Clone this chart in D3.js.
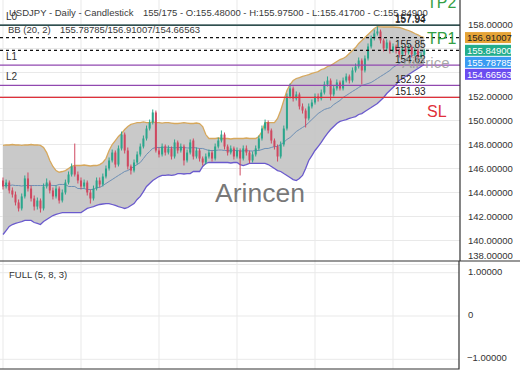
<!DOCTYPE html>
<html>
<head>
<meta charset="utf-8">
<script src="https://cdn.jsdelivr.net/npm/d3@7"></script>
<style>
  body { margin: 0; background: #fff; }
  svg { display: block; font-family: "Liberation Sans", Arial, sans-serif; }
</style>
</head>
<body>
<svg id="chart" width="520" height="390"></svg>
<script>
// daily USDJPY bars
const opens = [
  145.00, 144.50, 144.83, 144.17, 143.83, 143.17, 142.67, 143.67, 145.17, 144.33,
  143.50, 142.83, 143.33, 142.67, 144.50, 144.83, 144.17, 143.67, 144.33, 143.33,
  144.00, 144.83, 145.50, 146.17, 145.50, 145.00, 144.50, 144.83, 144.00, 143.50,
  144.33, 145.00, 144.67, 145.33, 146.00, 146.67, 147.33, 146.33, 147.67, 148.83,
  147.50, 146.17, 145.83, 146.50, 147.17, 147.83, 148.50, 149.33, 149.83, 150.67,
  147.50, 147.17, 147.83, 147.33, 147.67, 147.00, 148.17, 147.50, 147.83, 146.67,
  147.33, 148.33, 147.00, 147.50, 146.83, 146.50, 147.00, 147.33, 146.83, 147.83,
  148.33, 148.83, 147.83, 147.33, 147.67, 147.00, 147.50, 146.83, 147.67, 147.33,
  146.67, 147.17, 147.67, 148.50, 149.33, 149.83, 149.17, 148.33, 147.83, 147.00,
  148.00, 149.33, 152.00, 152.67, 151.83, 152.17, 151.17, 150.83, 150.17, 151.17,
  151.50, 152.00, 151.83, 152.33, 153.00, 153.33, 152.17, 152.67, 153.17, 152.67,
  153.33, 153.67, 153.33, 154.17, 154.50, 155.00, 154.17, 155.17, 156.17, 156.83,
  157.25, 157.42, 156.67, 156.00, 156.50, 155.83, 156.17, 155.83, 155.50, 156.00,
  155.67, 156.08, 155.50, 155.83, 155.33, 155.48
];
const highs = [
  145.25, 145.08, 145.00, 144.42, 144.08, 143.42, 143.92, 145.42, 145.67, 144.58,
  143.75, 143.58, 143.50, 144.75, 145.17, 145.00, 144.42, 144.58, 144.50, 144.25,
  145.08, 145.75, 146.42, 148.08, 145.75, 145.25, 145.08, 145.00, 144.25, 144.58,
  145.25, 145.25, 145.58, 146.25, 146.92, 147.58, 147.50, 147.92, 149.08, 149.00,
  147.75, 146.33, 146.75, 147.42, 148.08, 148.75, 149.58, 150.08, 150.92, 150.83,
  147.75, 148.08, 148.00, 147.92, 147.83, 148.42, 148.33, 148.08, 148.00, 147.58,
  148.42, 148.50, 147.75, 147.67, 147.00, 147.25, 147.58, 147.50, 148.08, 148.58,
  149.17, 149.00, 148.00, 147.92, 147.83, 147.75, 147.67, 147.92, 147.92, 147.50,
  147.42, 147.92, 148.75, 149.58, 150.08, 150.00, 149.33, 148.50, 148.00, 148.25,
  149.58, 152.25, 153.08, 152.83, 152.42, 152.33, 151.42, 151.00, 151.42, 151.75,
  152.25, 152.25, 152.58, 153.25, 153.67, 153.50, 152.92, 153.42, 153.33, 153.58,
  153.92, 153.83, 154.42, 154.75, 155.25, 155.17, 155.42, 156.42, 157.08, 157.58,
  157.83, 157.58, 156.83, 156.75, 156.67, 156.42, 156.33, 156.00, 156.25, 156.17,
  156.33, 156.25, 156.08, 156.00, 155.67, 155.975
];
const lows = [
  144.25, 144.33, 143.92, 143.58, 142.92, 142.42, 142.50, 143.50, 144.08, 143.25,
  142.50, 142.58, 142.33, 142.50, 144.33, 143.92, 143.42, 143.50, 143.08, 143.17,
  143.83, 144.67, 145.33, 145.33, 144.75, 144.25, 144.33, 143.75, 143.08, 143.33,
  144.17, 144.42, 144.50, 145.17, 145.83, 146.50, 146.08, 146.17, 147.50, 147.25,
  145.92, 145.50, 145.67, 146.33, 147.00, 147.67, 148.33, 149.17, 149.67, 147.33,
  146.92, 147.00, 147.08, 147.17, 146.75, 146.83, 147.25, 147.33, 146.25, 146.50,
  147.17, 146.75, 146.83, 146.58, 146.25, 146.33, 146.83, 146.58, 146.67, 147.67,
  148.17, 147.58, 147.08, 147.17, 146.75, 146.83, 145.42, 146.67, 147.08, 146.42,
  146.50, 147.00, 147.50, 148.33, 149.17, 148.92, 148.08, 147.58, 146.58, 146.83,
  147.83, 149.17, 151.83, 151.58, 151.67, 150.92, 150.58, 149.42, 150.00, 151.00,
  151.33, 151.58, 151.67, 152.17, 152.83, 151.67, 152.00, 152.50, 152.50, 152.50,
  153.17, 153.08, 153.17, 154.00, 154.33, 153.00, 154.00, 155.00, 156.00, 156.67,
  157.08, 156.42, 155.75, 155.83, 155.58, 155.67, 155.58, 155.25, 155.33, 155.42,
  155.50, 155.25, 155.33, 155.08, 155.17, 155.417
];
const closes = [
  144.50, 144.83, 144.17, 143.83, 143.17, 142.67, 143.67, 145.17, 144.33, 143.50,
  142.83, 143.33, 142.67, 144.50, 144.83, 144.17, 143.67, 144.33, 143.33, 144.00,
  144.83, 145.50, 146.17, 145.50, 145.00, 144.50, 144.83, 144.00, 143.50, 144.33,
  145.00, 144.67, 145.33, 146.00, 146.67, 147.33, 146.33, 147.67, 148.83, 147.50,
  146.17, 145.83, 146.50, 147.17, 147.83, 148.50, 149.33, 149.83, 150.67, 147.50,
  147.17, 147.83, 147.33, 147.67, 147.00, 148.17, 147.50, 147.83, 146.67, 147.33,
  148.17, 147.00, 147.50, 146.83, 146.50, 147.00, 147.33, 146.83, 147.83, 148.33,
  148.83, 147.83, 147.33, 147.67, 147.00, 147.50, 146.83, 147.67, 147.33, 146.67,
  147.17, 147.67, 148.50, 149.33, 149.83, 149.17, 148.33, 147.83, 147.00, 148.00,
  149.33, 152.00, 152.67, 151.83, 152.17, 151.17, 150.83, 150.17, 151.17, 151.50,
  152.00, 151.83, 152.33, 153.00, 153.33, 152.17, 152.67, 153.17, 152.67, 153.33,
  153.67, 153.33, 154.17, 154.50, 155.00, 154.17, 155.17, 156.17, 156.83, 157.25,
  157.42, 156.67, 156.00, 156.50, 155.83, 156.17, 155.83, 155.50, 156.00, 155.67,
  156.08, 155.50, 155.83, 155.33, 155.48, 155.849
];

// Bollinger bands (20, 2) as drawn
const bbUpper = [
  147.92, 147.96, 147.96, 148.00, 147.96, 147.96, 147.92, 147.96, 147.96, 148.00,
  147.96, 147.96, 147.92, 147.75, 147.33, 146.67, 146.17, 145.83, 145.69, 145.75,
  145.83, 146.00, 146.17, 146.25, 146.25, 146.25, 146.29, 146.25, 146.21, 146.25,
  146.25, 146.33, 146.50, 146.83, 147.50, 148.00, 148.33, 148.67, 148.92, 149.25,
  149.50, 149.67, 149.75, 149.83, 149.83, 149.88, 149.83, 149.83, 149.88, 149.83,
  149.83, 149.79, 149.83, 149.83, 149.79, 149.75, 149.75, 149.79, 149.83, 149.79,
  149.75, 149.75, 149.79, 149.75, 149.50, 148.83, 148.50, 148.50, 148.50, 148.54,
  148.50, 148.50, 148.50, 148.46, 148.50, 148.50, 148.50, 148.50, 148.54, 148.50,
  148.50, 148.50, 148.67, 149.08, 149.83, 149.83, 149.83, 149.83, 150.17, 150.83,
  151.67, 152.50, 153.00, 153.33, 153.50, 153.58, 153.67, 153.75, 153.83, 153.92,
  154.00, 154.08, 154.25, 154.33, 154.50, 154.58, 154.75, 154.92, 155.08, 155.17,
  155.33, 155.58, 155.83, 156.08, 156.42, 156.67, 156.92, 157.17, 157.42, 157.67,
  157.83, 157.81, 157.79, 157.79, 157.79, 157.79, 157.77, 157.75, 157.67, 157.58,
  157.50, 157.38, 157.25, 157.13, 157.00, 156.91007
];
const bbMiddle = [
  144.58, 144.58, 144.58, 144.62, 144.58, 144.58, 144.54, 144.58, 144.58, 144.58,
  144.58, 144.58, 144.58, 144.58, 144.62, 144.62, 144.58, 144.58, 144.67, 144.67,
  144.67, 144.50, 144.50, 144.50, 144.33, 144.33, 144.33, 144.25, 144.25, 144.25,
  144.42, 144.42, 144.58, 144.75, 144.92, 145.08, 145.25, 145.42, 145.58, 145.75,
  145.83, 146.00, 146.17, 146.33, 146.50, 146.83, 147.17, 147.42, 147.67, 147.75,
  147.75, 147.75, 147.79, 147.75, 147.75, 147.71, 147.75, 147.75, 147.75, 147.71,
  147.71, 147.75, 147.71, 147.67, 147.67, 147.58, 147.50, 147.50, 147.50, 147.54,
  147.54, 147.50, 147.50, 147.46, 147.50, 147.50, 147.46, 147.46, 147.50, 147.46,
  147.46, 147.50, 147.50, 147.58, 147.67, 147.67, 147.75, 147.83, 147.83, 148.00,
  148.17, 148.42, 148.58, 148.83, 149.08, 149.25, 149.42, 149.58, 149.83, 150.08,
  150.33, 150.58, 150.75, 150.92, 151.00, 151.08, 151.33, 151.50, 151.67, 151.92,
  152.08, 152.25, 152.42, 152.58, 152.75, 152.92, 153.00, 153.08, 153.17, 153.33,
  153.50, 153.67, 153.83, 154.00, 154.17, 154.42, 154.58, 154.75, 154.92, 155.08,
  155.25, 155.38, 155.50, 155.63, 155.71, 155.78785
];
const bbLower = [
  140.50, 140.83, 141.17, 141.33, 141.42, 141.50, 141.58, 141.67, 141.67, 141.67,
  141.50, 141.42, 141.33, 141.58, 141.75, 141.92, 142.08, 142.17, 142.25, 142.33,
  142.33, 142.33, 142.33, 142.33, 142.33, 142.33, 142.50, 142.67, 142.75, 142.83,
  142.92, 143.00, 143.04, 143.08, 143.08, 143.00, 142.92, 142.83, 142.75, 142.67,
  142.75, 142.92, 143.08, 143.42, 143.67, 144.08, 144.50, 144.75, 145.00, 145.17,
  145.33, 145.42, 145.42, 145.46, 145.42, 145.46, 145.58, 145.58, 145.54, 145.58,
  145.58, 145.75, 145.75, 145.75, 146.17, 146.42, 146.50, 146.50, 146.50, 146.50,
  146.50, 146.50, 146.50, 146.46, 146.50, 146.50, 146.33, 146.25, 146.33, 146.42,
  146.42, 146.42, 146.42, 146.42, 146.42, 146.33, 146.17, 146.00, 145.83, 145.75,
  145.58, 145.42, 145.25, 145.08, 145.00, 145.17, 145.42, 146.00, 146.67, 147.08,
  147.50, 147.83, 148.17, 148.58, 148.92, 149.25, 149.50, 149.75, 149.92, 150.00,
  150.08, 150.17, 150.25, 150.33, 150.50, 150.58, 150.75, 150.92, 151.08, 151.25,
  151.42, 151.67, 151.92, 152.25, 152.50, 152.75, 153.00, 153.33, 153.50, 153.67,
  153.83, 154.00, 154.17, 154.33, 154.50, 154.66563
];

// horizontal levels
const levelValues = [157.94, 157.93, 156.91, 155.85, 154.62, 152.92, 151.93];
const levelTexts  = ['157.94', '157.93', '', '155.85', '154.62', '152.92', '151.93'];
const levelKinds  = ['L', 'L', 'dash', 'dash', 'P', 'P', 'SL'];
const sideNames   = ['L0', 'L1', 'L2'];
const sideValues  = [157.94, 154.62, 152.92];
const targetNames  = ['TP2', 'TP1', 'SL'];
const targetValues = [159.35, 156.38, 150.27];

// right axis tags
const tagValues = [156.91007, 155.849, 155.78785, 154.66563];
const tagColors = ['#e5a336', '#22ad8c', '#3a9bf2', '#6b4cf0'];
const tagText   = ['#222', '#fff', '#fff', '#fff'];

const priceTicks = [158, 156, 154, 152, 150, 148, 146, 144, 142, 140, 138];
const oscTicks = [1, 0, -1];
const gridBars = [0, 25, 50, 75, 100, 125];

const svg = d3.select('#chart');
const axisX = 460, mainBottom = 261, lowBottom = 369;
const fmt = d3.format('.5f');

const x = d3.scaleLinear().domain([0, closes.length - 1]).range([3, 424.2]);
const y = d3.scaleLinear().domain([138.333, 160]).range([260.5, 0.5]);
const yo = d3.scaleLinear().domain([-1, 1]).range([359.3, 272.7]);

svg.append('defs').append('clipPath').attr('id', 'clipMain')
  .append('rect').attr('x', 0).attr('y', 0).attr('width', axisX).attr('height', mainBottom);

// grid ----------------------------------
const grid = svg.append('g').attr('stroke', '#e9e9e9').attr('stroke-width', 1);
grid.selectAll('line.h').data(priceTicks).join('line')
  .attr('x1', 0).attr('x2', axisX).attr('y1', d => y(d)).attr('y2', d => y(d));
grid.selectAll('line.v').data(gridBars).join('line')
  .attr('x1', d => x(d)).attr('x2', d => x(d)).attr('y1', 0).attr('y2', lowBottom);
grid.selectAll('line.o').data(oscTicks).join('line')
  .attr('x1', 0).attr('x2', axisX - 1).attr('y1', d => yo(d)).attr('y2', d => yo(d));

const main = svg.append('g').attr('clip-path', 'url(#clipMain)');

// bollinger band
const idx = d3.range(closes.length);
main.append('path').datum(idx)
  .attr('fill', '#c3c3c3').attr('fill-opacity', 0.9)
  .attr('d', d3.area().x(i => x(i)).y0(i => y(bbLower[i])).y1(i => y(bbUpper[i])));
const bbLine = arr => d3.line().x(i => x(i)).y(i => y(arr[i]));
main.append('path').datum(idx).attr('fill', 'none').attr('stroke', '#d7a85c').attr('stroke-width', 1.3).attr('d', bbLine(bbUpper));
main.append('path').datum(idx).attr('fill', 'none').attr('stroke', '#6d8fb5').attr('stroke-width', 1).attr('d', bbLine(bbMiddle));
main.append('path').datum(idx).attr('fill', 'none').attr('stroke', '#6a5acd').attr('stroke-width', 1.3).attr('d', bbLine(bbLower));

// candles
const up = '#2ba68c', down = '#cf4860';
const candle = main.append('g').selectAll('g').data(idx).join('g');
candle.append('line')
  .attr('x1', i => x(i)).attr('x2', i => x(i))
  .attr('y1', i => y(highs[i])).attr('y2', i => y(lows[i]))
  .attr('stroke', i => closes[i] >= opens[i] ? up : down).attr('stroke-width', 1);
candle.append('rect')
  .attr('x', i => x(i) - 1).attr('width', 2)
  .attr('y', i => y(Math.max(opens[i], closes[i])))
  .attr('height', i => Math.max(1, Math.abs(y(opens[i]) - y(closes[i]))))
  .attr('fill', i => closes[i] >= opens[i] ? up : down);

// level lines
const levelStroke = { L: '#2f4f4f', dash: '#111', P: '#9148b0', SL: '#e0303a' };
main.selectAll('line.level').data(levelValues).join('line')
  .attr('x1', 0).attr('x2', axisX)
  .attr('y1', d => y(d)).attr('y2', d => y(d))
  .attr('stroke', (d, i) => levelStroke[levelKinds[i]])
  .attr('stroke-width', (d, i) => levelKinds[i] === 'L' ? 1.4 : 1.2)
  .attr('stroke-dasharray', (d, i) => levelKinds[i] === 'dash' ? '3,3' : null);

main.selectAll('text.lvl').data(levelValues).join('text')
  .attr('x', 395).attr('y', (d, i) => y(d) - 2.5 - (i === 1 ? 0.8 : 0))
  .attr('font-size', 10).attr('fill', '#222')
  .text((d, i) => levelTexts[i]);

// watermarks
main.append('text').attr('x', 260).attr('y', 202).attr('text-anchor', 'middle')
  .attr('font-size', 26.5).attr('fill', '#5f5f5f').attr('fill-opacity', 0.85).text('Arincen');
main.append('text').attr('x', 402).attr('y', 68)
  .attr('font-size', 15).attr('fill', '#9a9a9a').attr('fill-opacity', 0.85).text('AiPrice');

// target labels
svg.selectAll('text.tgt').data(targetValues).join('text')
  .attr('x', 427).attr('y', d => y(d))
  .attr('font-size', 16)
  .attr('fill', (d, i) => targetNames[i] === 'SL' ? '#e0303a' : '#34a044')
  .text((d, i) => targetNames[i]);

// header
const head = svg.append('g').attr('font-size', 9.5).attr('fill', '#3a3a3a');
head.append('text').attr('x', 9).attr('y', 16).text('USDJPY - Daily - Candlestick');
head.append('text').attr('x', 143).attr('y', 16)
  .text('155/175 - O:' + fmt(opens[135]) + ' - H:' + fmt(highs[135]) + ' - L:' + fmt(lows[135]) + ' - C:' + fmt(closes[135]));
head.append('text').attr('x', 8).attr('y', 33).text('BB (20, 2)');
head.append('text').attr('x', 60).attr('y', 33)
  .text(fmt(bbMiddle[135]) + '/' + fmt(bbUpper[135]) + '/' + fmt(bbLower[135]));
svg.selectAll('text.side').data(sideValues).join('text')
  .attr('x', 6).attr('y', d => y(d) - 5.5)
  .attr('font-size', 10).attr('fill', '#333')
  .text((d, i) => sideNames[i]);

// right axis
svg.append('line').attr('x1', axisX).attr('x2', axisX).attr('y1', 0).attr('y2', mainBottom)
  .attr('stroke', '#333').attr('stroke-width', 1.2);

// tag layout (stack downwards if overlapping)
const tagY = [];
tagValues.forEach((v, i) => {
  let cy = y(v);
  if (i > 0 && cy < tagY[i - 1] + 12) cy = tagY[i - 1] + 12;
  tagY.push(cy);
});

const axis = svg.append('g').attr('font-size', 9.5).attr('fill', '#333');
axis.selectAll('text').data(priceTicks.filter(t => {
  const ty = y(t);
  return !tagY.some(c => Math.abs(c - ty) < 11);
})).join('text')
  .attr('x', 468).attr('y', d => Math.min(y(d), mainBottom - 6) + 3.5)
  .text(d => fmt(d));

const tags = svg.append('g').selectAll('g').data(tagValues).join('g')
  .attr('transform', (d, i) => 'translate(465,' + tagY[i] + ')');
tags.append('rect').attr('x', 0).attr('y', -5.5).attr('width', 46).attr('height', 11)
  .attr('fill', (d, i) => tagColors[i]);
tags.append('text').attr('x', 2).attr('y', 3.5).attr('font-size', 9.5)
  .attr('fill', (d, i) => tagText[i]).text(d => fmt(d));

// lower panel --------------------------
svg.append('line').attr('x1', 0).attr('x2', 520).attr('y1', mainBottom).attr('y2', mainBottom)
  .attr('stroke', '#333').attr('stroke-width', 1.2);
svg.append('path').attr('fill', 'none').attr('stroke', '#333').attr('stroke-width', 1.2)
  .attr('d', 'M0,' + lowBottom + 'H' + (axisX - 1) + 'V' + mainBottom);
svg.append('text').attr('x', 9).attr('y', 277.5).attr('font-size', 9.5).attr('fill', '#333').text('FULL (5, 8, 3)');
svg.append('g').attr('font-size', 9.5).attr('fill', '#333')
  .selectAll('text').data(oscTicks).join('text')
  .attr('x', d => d < 0 ? 467 : 468).attr('y', d => yo(d) + 2)
  .text(d => d === 0 ? '0' : fmt(d));
</script>
</body>
</html>
